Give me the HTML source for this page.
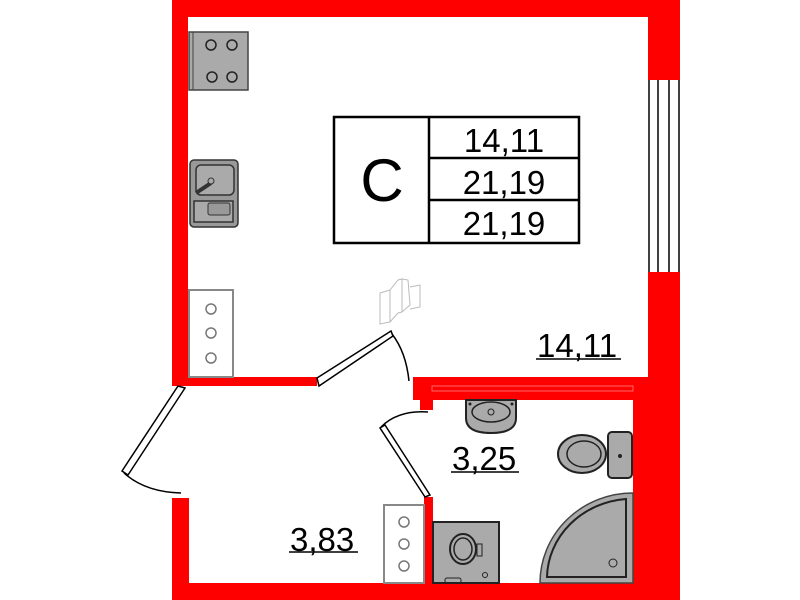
<!DOCTYPE html>
<html><head><meta charset="utf-8"><style>
html,body{margin:0;padding:0;background:#fff;}
svg{display:block;}
text{font-family:"Liberation Sans",sans-serif;fill:#000;}
</style></head><body>
<svg width="800" height="600" viewBox="0 0 800 600" xmlns="http://www.w3.org/2000/svg">
<rect width="800" height="600" fill="#fff"/>
<!-- walls -->
<g fill="#ff0000">
<rect x="172" y="0" width="508" height="17"/>
<rect x="172" y="0" width="16" height="386"/>
<rect x="648" y="0" width="32" height="80"/>
<rect x="648" y="272" width="32" height="110"/>
<rect x="172" y="377" width="145" height="9"/>
<rect x="413" y="377" width="267" height="23"/>
<rect x="633" y="377" width="47" height="223"/>
<rect x="420" y="385" width="13" height="25"/>
<rect x="172" y="498" width="17" height="102"/>
<rect x="172" y="583" width="508" height="17"/>
<rect x="424" y="497" width="9" height="86"/>
</g>
<rect x="432" y="386" width="201" height="5" fill="none" stroke="#ff8080" stroke-width="0.8"/>
<!-- window -->
<g stroke="#000" stroke-width="1.5">
<line x1="649" y1="80" x2="649" y2="272"/>
<line x1="658" y1="80" x2="658" y2="272"/>
<line x1="669" y1="80" x2="669" y2="272"/>
<line x1="679" y1="80" x2="679" y2="272"/>
</g>
<!-- doors -->
<g fill="none" stroke="#000" stroke-width="1.5">
<polygon points="317,378 391,331 393,336 319,386" fill="#fff"/>
<path d="M392,334 Q406,352 409,381"/>
<polygon points="178,386 185,388 128,475 122,471" fill="#fff"/>
<path d="M124,473 Q145,492 181,493"/>
<polygon points="425,497 430,495 385,425 380,428" fill="#fff"/>
<path d="M381,427 Q398,410 428,412"/>
</g>
<!-- C box -->
<g fill="none" stroke="#000" stroke-width="2.5">
<rect x="334" y="117" width="245" height="126"/>
<line x1="429" y1="117" x2="429" y2="243"/>
<line x1="429" y1="158" x2="579" y2="158"/>
<line x1="429" y1="200" x2="579" y2="200"/>
</g>
<text x="382" y="201" font-size="60" text-anchor="middle">C</text>
<text x="504" y="152" font-size="33" text-anchor="middle">14,11</text>
<text x="504" y="194" font-size="33" text-anchor="middle">21,19</text>
<text x="504" y="235" font-size="33" text-anchor="middle">21,19</text>
<!-- room labels -->
<text x="537" y="357" font-size="33">14,11</text>
<line x1="536" y1="359" x2="621" y2="359" stroke="#000" stroke-width="1.5"/>
<text x="452" y="470" font-size="33">3,25</text>
<line x1="451" y1="472" x2="519" y2="472" stroke="#000" stroke-width="1.5"/>
<text x="290" y="551" font-size="33">3,83</text>
<line x1="289" y1="552" x2="358" y2="552" stroke="#000" stroke-width="1.5"/>
<!-- stove -->
<rect x="189" y="32" width="59" height="58" fill="#aaa" stroke="#444" stroke-width="1.5"/>
<line x1="193" y1="32" x2="193" y2="90" stroke="#444" stroke-width="1"/>
<g fill="none" stroke="#222" stroke-width="1.5">
<circle cx="211" cy="45" r="5"/><circle cx="232" cy="45" r="5"/>
<circle cx="212" cy="77" r="5"/><circle cx="232" cy="77" r="5"/>
</g>
<!-- kitchen sink -->
<rect x="190" y="160" width="48" height="67" rx="4" fill="#999" stroke="#333" stroke-width="1.5"/>
<rect x="196" y="165" width="38" height="30" rx="5" fill="#aaa" stroke="#333" stroke-width="1.5"/>
<line x1="196" y1="193" x2="211" y2="183" stroke="#333" stroke-width="4"/>
<circle cx="211" cy="181" r="3" fill="#aaa" stroke="#333"/>
<rect x="194" y="201" width="39" height="21" fill="#aaa" stroke="#333" stroke-width="1.5"/>
<rect x="208" y="203" width="22" height="12" rx="2" fill="#999" stroke="#333"/>
<!-- cabinets -->
<rect x="189" y="290" width="44" height="87" fill="#fff" stroke="#888" stroke-width="2"/>
<g fill="none" stroke="#777" stroke-width="1.5">
<circle cx="211" cy="309" r="5"/><circle cx="211" cy="333" r="5"/><circle cx="211" cy="358" r="5"/>
</g>
<rect x="384" y="505" width="40" height="78" fill="#fff" stroke="#888" stroke-width="2"/>
<g fill="none" stroke="#777" stroke-width="1.5">
<circle cx="404" cy="522" r="5"/><circle cx="404" cy="544" r="5"/><circle cx="404" cy="566" r="5"/>
</g>
<!-- radiator sketch -->
<g fill="none" stroke="#bbb" stroke-width="1">
<polyline points="380,293 390,290 390,322 380,324 380,293"/>
<polyline points="390,290 398,280 402,279 402,312 398,313 390,322"/>
<polyline points="402,279 408,280 410,305 402,312"/>
<polyline points="410,287 420,285 420,307 410,309"/>
</g>
<!-- washbasin -->
<path d="M466,400 L516,400 L516,418 Q516,433 491,433 Q466,433 466,418 Z" fill="#aaa" stroke="#222" stroke-width="2"/>
<ellipse cx="491" cy="412" rx="19" ry="10" fill="none" stroke="#222" stroke-width="1.5"/>
<circle cx="491" cy="412" r="3" fill="none" stroke="#222"/>
<circle cx="470" cy="404" r="1.5" fill="#222"/><circle cx="512" cy="404" r="1.5" fill="#222"/>
<!-- toilet -->
<ellipse cx="582" cy="454" rx="24" ry="19" fill="#aaa" stroke="#222" stroke-width="2"/>
<ellipse cx="584" cy="454" rx="17" ry="13" fill="none" stroke="#222" stroke-width="1.5"/>
<rect x="608" y="432" width="24" height="46" rx="4" fill="#aaa" stroke="#222" stroke-width="2"/>
<circle cx="620" cy="456" r="2" fill="#222"/>
<!-- shower -->
<path d="M633,493 L633,583 L540,583 A93,90 0 0 1 633,493 Z" fill="#aaa" stroke="#444" stroke-width="1.5"/>
<path d="M626,499 L626,577 L547,577 A86,80 0 0 1 626,499 Z" fill="none" stroke="#222" stroke-width="2"/>
<circle cx="613" cy="563" r="4" fill="none" stroke="#222"/>
<!-- washing machine -->
<rect x="433" y="522" width="66" height="61" fill="#aaa" stroke="#222" stroke-width="2"/>
<ellipse cx="463" cy="549" rx="13" ry="15" fill="#aaa" stroke="#222" stroke-width="2"/>
<ellipse cx="463" cy="549" rx="9" ry="11" fill="none" stroke="#222" stroke-width="1.5"/>
<rect x="477" y="544" width="5" height="12" fill="#aaa" stroke="#222"/>
<circle cx="485" cy="575" r="2.5" fill="none" stroke="#222"/>
<rect x="445" y="578" width="16" height="5" rx="2" fill="none" stroke="#222"/>
</svg>
</body></html>
